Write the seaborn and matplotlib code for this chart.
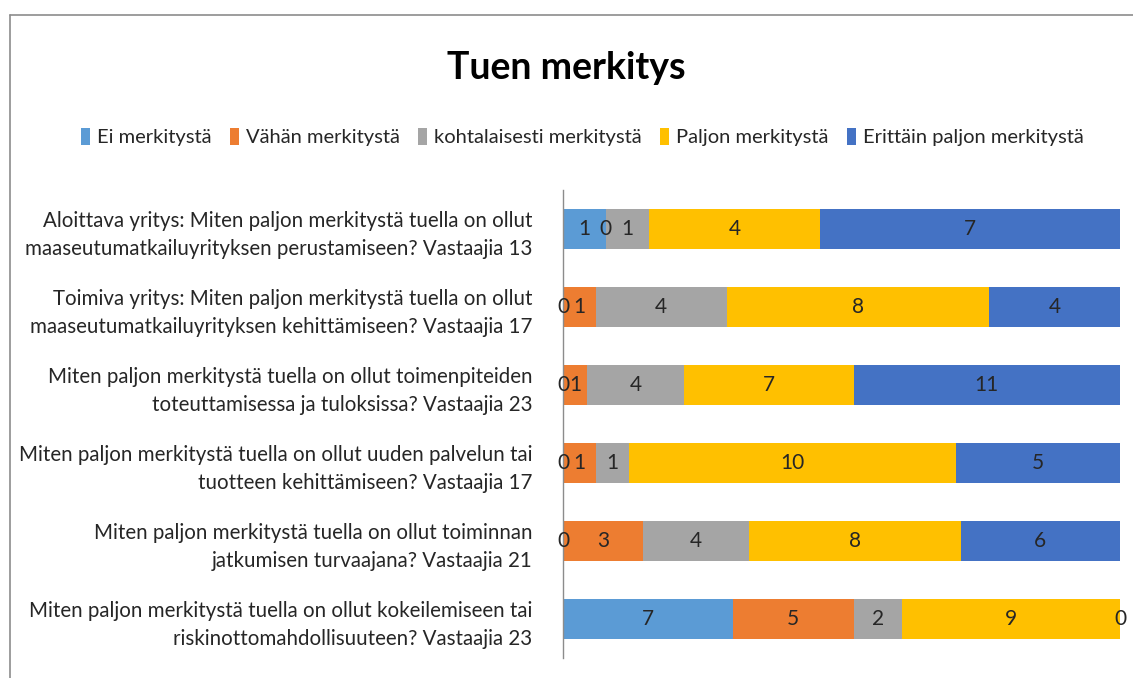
import numpy as np
import pandas as pd
import matplotlib
matplotlib.use("Agg")
import matplotlib.pyplot as plt
import seaborn as sns
from matplotlib.patches import Patch
from matplotlib.lines import Line2D

# --- DATA ---
questions = [
    "Aloittava yritys: Miten paljon merkitystä tuella on ollut\nmaaseutumatkailuyrityksen perustamiseen? Vastaajia 13",
    "Toimiva yritys: Miten paljon merkitystä tuella on ollut\nmaaseutumatkailuyrityksen kehittämiseen? Vastaajia 17",
    "Miten paljon merkitystä tuella on ollut toimenpiteiden\ntoteuttamisessa ja tuloksissa? Vastaajia 23",
    "Miten paljon merkitystä tuella on ollut uuden palvelun tai\ntuotteen kehittämiseen? Vastaajia 17",
    "Miten paljon merkitystä tuella on ollut toiminnan\njatkumisen turvaajana? Vastaajia 21",
    "Miten paljon merkitystä tuella on ollut kokeilemiseen tai\nriskinottomahdollisuuteen? Vastaajia 23",
]
categories = ["Ei merkitystä", "Vähän merkitystä", "kohtalaisesti merkitystä",
              "Paljon merkitystä", "Erittäin paljon merkitystä"]
ei = [1, 0, 0, 0, 0, 7]
vahan = [0, 1, 1, 1, 3, 5]
kohtalaisesti = [1, 4, 4, 1, 4, 2]
paljon = [4, 8, 7, 10, 8, 9]
erittain = [7, 4, 11, 5, 6, 0]
colors = ["#5B9BD5", "#ED7D31", "#A5A5A5", "#FFC000", "#4472C4"]

sns.set_style("white")
plt.rcParams['font.family'] = ['Lato', 'DejaVu Sans']

counts = pd.DataFrame(np.array([ei, vahan, kohtalaisesti, paljon, erittain]).T,
                      index=questions, columns=categories)
shares = counts.div(counts.sum(axis=1), axis=0)
cum = shares.cumsum(axis=1)

fig = plt.figure(figsize=(11.33, 6.78), dpi=100)
ax = fig.add_axes([563 / 1133, 20 / 678, (1120 - 563) / 1133, (658 - 190) / 678])

# layered bars: draw cumulative totals from the widest to the narrowest
for cat, col in reversed(list(zip(categories, colors))):
    sns.barplot(x=cum[cat].values, y=questions, color=col, width=0.51,
                orient="h", ax=ax, saturation=1, edgecolor="none")

# value labels centred in each segment
for cat in categories:
    centers = cum[cat] - shares[cat] / 2
    for i, q in enumerate(questions):
        ax.text(centers[q], i, str(counts.loc[q, cat]), ha="center", va="center",
                fontsize=15, color="#262626")

ax.set_xlim(0, 1)
ax.set_ylim(5.5, -0.5)
ax.set_xticks([])
ax.set_xlabel("")
ax.tick_params(axis="y", length=0, pad=22, labelsize=14.8, labelcolor="#262626")
for lab in ax.get_yticklabels():
    lab.set_linespacing(1.5)
for s in ["top", "right", "bottom"]:
    ax.spines[s].set_visible(False)
ax.spines["left"].set_color("#8C8C8C")
ax.spines["left"].set_linewidth(1)

handles = [Patch(facecolor=c, edgecolor="none") for c in colors]
fig.legend(handles, categories, loc="center", bbox_to_anchor=(0.514, 1 - 137 / 678),
           ncol=5, frameon=False, fontsize=14.5, handlelength=0.45, handleheight=0.9,
           handletextpad=0.35, columnspacing=0.9, labelcolor="#262626")

fig.text(0.5, 1 - 68 / 678, "Tuen merkitys", ha="center", va="center",
         fontsize=27, fontweight="bold", color="black")

# chart area border (partially visible)
fig.add_artist(Line2D([10 / 1133, 1], [1 - 15 / 678, 1 - 15 / 678], color="#8C8C8C", lw=1.2))
fig.add_artist(Line2D([10 / 1133, 10 / 1133], [0, 1 - 15 / 678], color="#8C8C8C", lw=1.2))

fig.savefig("out.png", dpi=100)
